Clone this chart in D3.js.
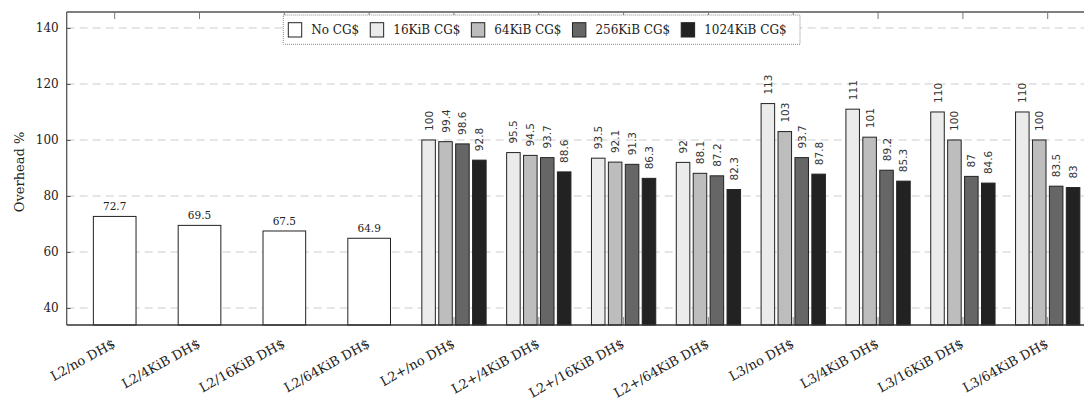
<!DOCTYPE html>
<html>
<head>
<meta charset="utf-8">
<script src="https://cdn.jsdelivr.net/npm/d3@7/dist/d3.min.js"></script>
<style>
  html, body { margin: 0; padding: 0; background: #fff; }
  svg { display: block; }
  .serif { font-family: "DejaVu Serif", serif; }
  .mono { font-family: "DejaVu Sans", sans-serif; }
</style>
</head>
<body>
<svg id="chart" width="1084" height="403"></svg>
<script>
// Cache-configuration overhead data
const categories = [
  "L2/no DH$", "L2/4KiB DH$", "L2/16KiB DH$", "L2/64KiB DH$",
  "L2+/no DH$", "L2+/4KiB DH$", "L2+/16KiB DH$", "L2+/64KiB DH$",
  "L3/no DH$", "L3/4KiB DH$", "L3/16KiB DH$", "L3/64KiB DH$"
];
const seriesNames = ["No CG$", "16KiB CG$", "64KiB CG$", "256KiB CG$", "1024KiB CG$"];
const seriesColors = ["#ffffff", "#ebebeb", "#bdbdbd", "#666666", "#222222"];

const noCG    = [72.7, 69.5, 67.5, 64.9, null, null, null, null, null, null, null, null];
const cg16    = [null, null, null, null, 100, 95.5, 93.5, 92, 113, 111, 110, 110];
const cg64    = [null, null, null, null, 99.4, 94.5, 92.1, 88.1, 103, 101, 100, 100];
const cg256   = [null, null, null, null, 98.6, 93.7, 91.3, 87.2, 93.7, 89.2, 87, 83.5];
const cg1024  = [null, null, null, null, 92.8, 88.6, 86.3, 82.3, 87.8, 85.3, 84.6, 83];

const yTicks = [40, 60, 80, 100, 120, 140];

const allSeries = [noCG, cg16, cg64, cg256, cg1024];

const svg = d3.select("#chart");

const plot = { left: 66.7, top: 12, bottom: 325, right: 1084 };

const x = d3.scalePoint().domain(categories).range([114.7, 1047.7]);
const step = x.step();
const y = d3.scaleLinear().domain([33.93, 145.7]).range([plot.bottom, plot.top]);

// Within-group layout for the four CG$ sizes
const inner = d3.scaleBand()
  .domain([1, 2, 3, 4])
  .range([-step * 0.379, step * 0.379])
  .paddingInner(0.2);
const wideBar = step * 0.503;

// Grid lines
svg.append("g").selectAll("line").data(yTicks).join("line")
  .attr("x1", plot.left).attr("x2", plot.right)
  .attr("y1", d => y(d)).attr("y2", d => y(d))
  .attr("stroke", "#cccccc").attr("stroke-width", 1)
  .attr("stroke-dasharray", "8,5");

// Bottom ticks (behind bars)
svg.append("g").selectAll("line").data(categories).join("line")
  .attr("x1", d => x(d)).attr("x2", d => x(d))
  .attr("y1", plot.bottom).attr("y2", plot.bottom - 8)
  .attr("stroke", "#888").attr("stroke-width", 1);

// Bars
const bars = [];
categories.forEach((c, i) => {
  allSeries.forEach((s, k) => {
    const v = s[i];
    if (v == null) return;
    let bx, bw;
    if (k === 0) { bw = wideBar; bx = x(c) - bw / 2; }
    else { bw = inner.bandwidth(); bx = x(c) + inner(k); }
    bars.push({ c, k, v, bx, bw });
  });
});

svg.append("g").selectAll("rect").data(bars).join("rect")
  .attr("x", d => d.bx)
  .attr("y", d => y(d.v))
  .attr("width", d => d.bw)
  .attr("height", d => plot.bottom - y(d.v))
  .attr("fill", d => seriesColors[d.k])
  .attr("stroke", "#222")
  .attr("stroke-width", 1);

// Value labels
const lbl = svg.append("g");
bars.forEach(d => {
  const cx = d.bx + d.bw / 2;
  if (d.k === 0) {
    lbl.append("text")
      .attr("class", "serif")
      .attr("x", cx).attr("y", y(d.v) - 6)
      .attr("text-anchor", "middle")
      .attr("font-size", 10.5)
      .attr("fill", "#222")
      .text(d.v);
  } else {
    lbl.append("text")
      .attr("class", "mono")
      .attr("transform", `translate(${cx},${y(d.v) - 9}) rotate(-90)`)
      .attr("text-anchor", "start")
      .attr("dominant-baseline", "central")
      .attr("font-size", 10.5)
      .attr("fill", "#333")
      .text(d.v);
  }
});

// Axis lines
svg.append("line").attr("x1", plot.left).attr("x2", plot.left)
  .attr("y1", plot.top).attr("y2", plot.bottom)
  .attr("stroke", "#555").attr("stroke-width", 1.3);
svg.append("line").attr("x1", plot.left).attr("x2", plot.right)
  .attr("y1", plot.top).attr("y2", plot.top)
  .attr("stroke", "#555").attr("stroke-width", 1.3);
svg.append("line").attr("x1", plot.left).attr("x2", plot.right)
  .attr("y1", plot.bottom).attr("y2", plot.bottom)
  .attr("stroke", "#333").attr("stroke-width", 1.3);

// Top ticks
svg.append("g").selectAll("line").data(categories).join("line")
  .attr("x1", d => x(d)).attr("x2", d => x(d))
  .attr("y1", plot.top).attr("y2", plot.top + 7)
  .attr("stroke", "#777").attr("stroke-width", 1);

// Y axis ticks and labels
const yAxis = d3.axisLeft(y).tickValues(yTicks).tickSize(-4).tickPadding(8);
const yg = svg.append("g").attr("transform", `translate(${plot.left},0)`).call(yAxis);
yg.attr("font-family", null).attr("font-size", null);
yg.select(".domain").remove();
yg.selectAll(".tick line").attr("stroke", "#555");
yg.selectAll(".tick text")
  .attr("class", "serif").attr("font-size", 12).attr("fill", "#222");

// Y axis title
svg.append("text")
  .attr("class", "serif")
  .attr("transform", `translate(19,172) rotate(-90)`)
  .attr("text-anchor", "middle")
  .attr("dominant-baseline", "central")
  .attr("font-size", 13).attr("fill", "#222")
  .text("Overhead %");

// X category labels
svg.append("g").selectAll("text").data(categories).join("text")
  .attr("class", "serif")
  .attr("transform", d => `translate(${x(d) - 3},${plot.bottom + 13}) rotate(-29)`)
  .attr("text-anchor", "end")
  .attr("dominant-baseline", "hanging")
  .attr("font-size", 13).attr("fill", "#222")
  .text(d => d);

// Legend
const lg = svg.append("g");
lg.append("rect")
  .attr("x", 283.3).attr("y", 15).attr("width", 516.7).attr("height", 29.3)
  .attr("fill", "#fff").attr("stroke", "#888").attr("stroke-width", 1)
  .attr("stroke-dasharray", "1,1");
let lx = 288.3;
seriesNames.forEach((name, k) => {
  lg.append("rect")
    .attr("x", lx).attr("y", 22.7).attr("width", 13.4).attr("height", 14.3)
    .attr("fill", seriesColors[k]).attr("stroke", "#222").attr("stroke-width", 1);
  const t = lg.append("text")
    .attr("class", "serif")
    .attr("x", lx + 23).attr("y", 34.3)
    .attr("font-size", 12).attr("fill", "#222")
    .text(name);
  lx = lx + 23 + t.node().getComputedTextLength() + 11;
});
</script>
</body>
</html>
